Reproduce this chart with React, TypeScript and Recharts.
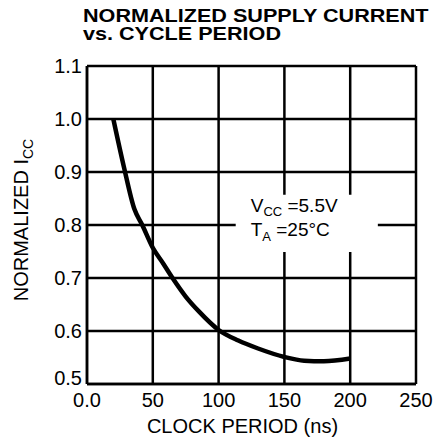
import React from "react";
import {
  CartesianGrid,
  Line,
  LineChart,
  ReferenceArea,
  XAxis,
  YAxis,
} from "recharts";

const periods = [20, 28, 36, 42, 50, 58, 65, 75, 85, 100, 115, 130, 150, 165, 180, 200];
const icc = [1.0, 0.91, 0.83, 0.8, 0.757, 0.727, 0.7, 0.665, 0.637, 0.602, 0.582, 0.567, 0.551, 0.544, 0.543, 0.548];
const xTicks = [0, 50, 100, 150, 200, 250];
const yTicks = [0.5, 0.6, 0.7, 0.8, 0.9, 1.0, 1.1];

const data = periods.map((p, i) => ({ period: p, icc: icc[i] }));

const FONT = "'Liberation Sans', Arial, Helvetica, sans-serif";

function YTick(props: any) {
  const { x, y, payload } = props;
  const shift = payload.value === 0.5 ? -6 : 0;
  return (
    <text x={x} y={y + shift} dy="0.36em" textAnchor="end" fontSize={20} fontFamily={FONT} fill="#000">
      {Number(payload.value).toFixed(1)}
    </text>
  );
}

function XTick(props: any) {
  const { x, y, payload } = props;
  return (
    <text x={x} y={y} dy="0.71em" textAnchor="middle" fontSize={20} fontFamily={FONT} fill="#000">
      {payload.value === 0 ? "0.0" : payload.value}
    </text>
  );
}

function Conditions(props: any) {
  const { x, y } = props.viewBox;
  return (
    <text fontFamily={FONT} fontSize={19} fill="#000">
      <tspan x={x + 15} y={y + 17}>V</tspan>
      <tspan dy={4} fontSize={13}>CC</tspan>
      <tspan dy={-4}> =5.5V</tspan>
      <tspan x={x + 15} y={y + 41}>T</tspan>
      <tspan dy={5} fontSize={13}>A</tspan>
      <tspan dy={-5}> =25°C</tspan>
    </text>
  );
}

export default function App() {
  return (
    <div style={{ position: "absolute", left: 0, top: 0, width: 433, height: 445, background: "#fff" }}>
      <svg width={433} height={50} style={{ position: "absolute", left: 0, top: 0 }}>
        <g transform="translate(83,0) scale(1.2,1)">
          <text x={0} y={22} fontFamily={FONT} fontWeight="bold" fontSize={18} fill="#000">
            NORMALIZED SUPPLY CURRENT
          </text>
          <text x={0} y={40} fontFamily={FONT} fontWeight="bold" fontSize={18} fill="#000">
            vs. CYCLE PERIOD
          </text>
        </g>
      </svg>
      <LineChart
        width={433}
        height={445}
        data={data}
        margin={{ top: 66, right: 17, bottom: 0, left: 0 }}
      >
        <CartesianGrid stroke="#000" strokeWidth={2.5} strokeOpacity={1} />
        <XAxis
          type="number"
          dataKey="period"
          domain={[0, 250]}
          ticks={xTicks}
          height={61}
          tickLine={false}
          tickSize={6}
          tickMargin={3}
          axisLine={{ stroke: "#000", strokeWidth: 2.5 }}
          tick={<XTick />}
          label={{
            value: "CLOCK PERIOD (ns)",
            position: "insideBottom",
            offset: 12,
            dx: -9,
            fontSize: 20,
            fontFamily: FONT,
            fill: "#000",
          }}
        />
        <YAxis
          type="number"
          domain={[0.5, 1.1]}
          ticks={yTicks}
          width={87}
          tickLine={false}
          tickSize={3}
          tickMargin={2}
          axisLine={{ stroke: "#000", strokeWidth: 2.5 }}
          tick={<YTick />}
          label={{
            content: () => (
              <text
                x={28}
                y={220}
                transform="rotate(-90, 28, 220)"
                textAnchor="middle"
                fontFamily={FONT}
                fontSize={20}
                fill="#000"
              >
                NORMALIZED I
                <tspan dy={5} fontSize={14}>CC</tspan>
              </text>
            ),
          }}
        />
        <ReferenceArea
          x1={113}
          x2={221}
          y1={0.749}
          y2={0.857}
          fill="#fff"
          fillOpacity={1}
          stroke="none"
          label={<Conditions />}
        />
        <Line
          type="monotone"
          dataKey="icc"
          stroke="#000"
          strokeWidth={4.5}
          dot={false}
          isAnimationActive={false}
        />
      </LineChart>
    </div>
  );
}
